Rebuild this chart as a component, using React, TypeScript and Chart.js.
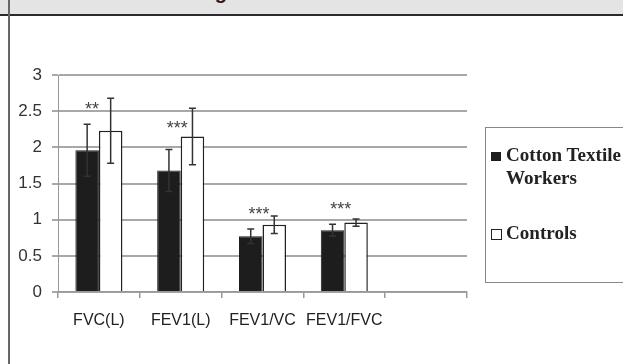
import React, { useEffect, useRef } from "react";
import { Chart, registerables } from "chart.js";

Chart.register(...registerables);

const TITLE = "Lung Function Parameters";
const categories = ["FVC(L)", "FEV1(L)", "FEV1/VC", "FEV1/FVC", ""];
const seriesNames = ["Cotton Textile Workers", "Controls"];
const workers = [1.96, 1.68, 0.77, 0.855];
const workersErr = [0.36, 0.29, 0.1, 0.08];
const controls = [2.23, 2.15, 0.93, 0.96];
const controlsErr = [0.45, 0.39, 0.12, 0.05];
const stars = ["**", "***", "***", "***"];
const starY = [2.56, 2.29, 1.11, 1.17];

const errors = [workersErr, controlsErr];

const overlayPlugin = {
  id: "overlay",
  afterDatasetsDraw(chart: any) {
    const ctx = chart.ctx;
    const y = chart.scales.y;
    const x = chart.scales.x;
    ctx.save();
    chart.data.datasets.forEach((ds: any, di: number) => {
      const meta = chart.getDatasetMeta(di);
      meta.data.forEach((el: any, i: number) => {
        const v = ds.data[i];
        const e = errors[di][i];
        if (v == null || e == null) return;
        const top = y.getPixelForValue(v + e);
        const bot = y.getPixelForValue(v - e);
        ctx.strokeStyle = "#333";
        ctx.lineWidth = 1.5;
        ctx.beginPath();
        ctx.moveTo(el.x, top);
        ctx.lineTo(el.x, bot);
        ctx.moveTo(el.x - 3.5, top);
        ctx.lineTo(el.x + 3.5, top);
        ctx.moveTo(el.x - 3.5, bot);
        ctx.lineTo(el.x + 3.5, bot);
        ctx.stroke();
      });
    });
    ctx.fillStyle = "#444";
    ctx.font = '18px "Liberation Sans", Arial, sans-serif';
    ctx.textAlign = "left";
    ctx.textBaseline = "middle";
    stars.forEach((s, i) => {
      ctx.fillText(s, x.getPixelForValue(i) - 14, y.getPixelForValue(starY[i]) + 3);
    });
    ctx.restore();
  },
};

export default function App() {
  const ref = useRef<HTMLCanvasElement>(null);
  useEffect(() => {
    if (!ref.current) return;
    const chart = new Chart(ref.current, {
      type: "bar",
      data: {
        labels: categories,
        datasets: [
          {
            label: seriesNames[0],
            data: workers,
            backgroundColor: "#1d1d1d",
            borderColor: "#1d1d1d",
            borderWidth: 1,
            categoryPercentage: 0.575,
            barPercentage: 1,
          },
          {
            label: seriesNames[1],
            data: controls,
            backgroundColor: "#ffffff",
            borderColor: "#222",
            borderWidth: 1.5,
            categoryPercentage: 0.575,
            barPercentage: 1,
          },
        ],
      },
      options: {
        animation: false,
        responsive: false,
        maintainAspectRatio: false,
        layout: { padding: { left: 0, top: 75, right: 156, bottom: 32 } },
        plugins: {
          legend: { display: false },
          tooltip: { enabled: false },
          title: { display: false },
        },
        scales: {
          x: {
            offset: true,
            grid: {
              offset: true,
              drawOnChartArea: false,
              drawTicks: true,
              tickLength: 6,
              color: "#999",
              lineWidth: 1.5,
            },
            border: { display: true, color: "#999", width: 1.5 },
            ticks: {
              color: "#222",
              font: { family: '"Liberation Sans", Arial, sans-serif', size: 16 },
              padding: 13,
              maxRotation: 0,
              autoSkip: false,
            },
            afterFit: (s: any) => {
              s.height = 40;
            },
          },
          y: {
            min: 0,
            max: 3,
            ticks: {
              stepSize: 0.5,
              color: "#333",
              font: { family: '"Liberation Sans", Arial, sans-serif', size: 17 },
              padding: 10,
              callback: (v: any) => String(Number(v)),
            },
            grid: {
              color: "#a8a8a8",
              lineWidth: 2,
              tickLength: 6,
            },
            border: { display: true, color: "#999", width: 1 },
            afterFit: (s: any) => {
              s.width = 58;
            },
          },
        },
      },
      plugins: [overlayPlugin],
    });
    return () => chart.destroy();
  }, []);

  const serif = '"Liberation Serif", "Times New Roman", serif';
  const legendText: React.CSSProperties = {
    position: "absolute",
    left: 506,
    whiteSpace: "nowrap",
    fontFamily: serif,
    fontWeight: "bold",
    fontSize: 18,
    lineHeight: "23px",
    color: "#222",
    transform: "scaleX(1.06)",
    transformOrigin: "left center",
  };
  return (
    <div
      style={{
        position: "fixed",
        left: 0,
        top: 0,
        width: 623,
        height: 364,
        overflow: "hidden",
        background: "#fff",
      }}
    >
      <canvas ref={ref} width={623} height={364} style={{ position: "absolute", left: 0, top: 0 }} />
      <div
        style={{
          position: "absolute",
          left: 0,
          top: 0,
          width: 623,
          height: 14,
          background: "#e4e4e4",
          overflow: "hidden",
        }}
      >
        <div
          style={{
            position: "absolute",
            left: 178,
            top: -20,
            whiteSpace: "nowrap",
            fontFamily: '"Liberation Sans", Arial, sans-serif',
            fontWeight: "bold",
            fontSize: 20,
            lineHeight: "24px",
            color: "#222",
          }}
        >
          {TITLE}
        </div>
      </div>
      <div style={{ position: "absolute", left: 0, top: 14, width: 623, height: 2, background: "#2a2a2a" }} />
      <div style={{ position: "absolute", left: 8, top: 0, width: 2, height: 364, background: "#666" }} />
      <div
        style={{
          position: "absolute",
          left: 485,
          top: 127,
          width: 200,
          height: 154,
          border: "1.5px solid #888",
        }}
      />
      <div style={{ position: "absolute", left: 491, top: 152, width: 10, height: 9, background: "#1d1d1d" }} />
      <div style={{ ...legendText, top: 144 }}>
        Cotton Textile
        <br />
        Workers
      </div>
      <div
        style={{
          position: "absolute",
          left: 491,
          top: 229,
          width: 9,
          height: 9,
          border: "1px solid #222",
          background: "#fff",
        }}
      />
      <div style={{ ...legendText, top: 222 }}>Controls</div>
    </div>
  );
}
